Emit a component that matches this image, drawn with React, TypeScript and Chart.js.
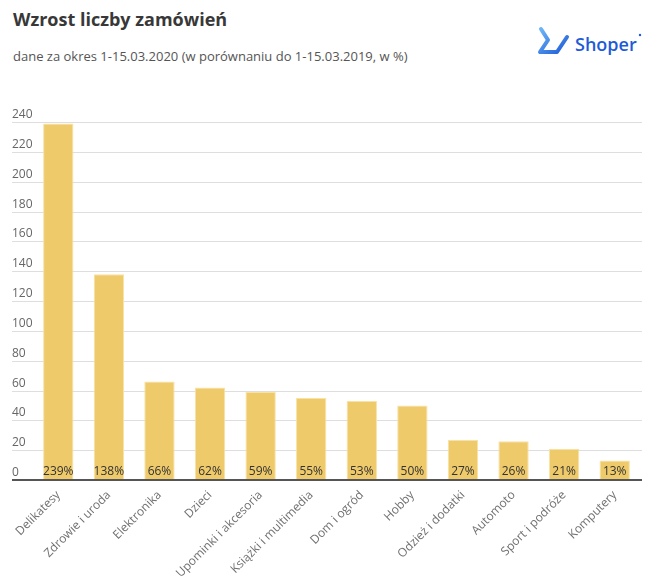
import React, { useEffect, useRef } from 'react';
import { Chart, registerables } from 'chart.js';

Chart.register(...registerables);

const categories = [
  'Delikatesy',
  'Zdrowie i uroda',
  'Elektronika',
  'Dzieci',
  'Upominki i akcesoria',
  'Książki i multimedia',
  'Dom i ogród',
  'Hobby',
  'Odzież i dodatki',
  'Automoto',
  'Sport i podróże',
  'Komputery',
];
const growth = [239, 138, 66, 62, 59, 55, 53, 50, 27, 26, 21, 13];
const yTicks = [0, 20, 40, 60, 80, 100, 120, 140, 160, 180, 200, 220, 240];

const titleText = 'Wzrost liczby zamówień';
const subtitleText = 'dane za okres 1-15.03.2020 (w porównaniu do 1-15.03.2019, w %)';

const FONT = '"Open Sans", sans-serif';
const GRID_LEFT = 12;
const GRID_RIGHT = 642;

const customPlugin = {
  id: 'customDecor',
  beforeDatasetsDraw(chart: any) {
    const ctx = chart.ctx;
    const y = chart.scales.y;
    ctx.save();
    ctx.font = `12px ${FONT}`;
    ctx.fillStyle = '#666';
    ctx.textAlign = 'left';
    ctx.textBaseline = 'alphabetic';
    for (const v of yTicks) {
      const py = Math.round(y.getPixelForValue(v)) + 0.5;
      if (v !== 0) {
        ctx.strokeStyle = '#dedede';
        ctx.lineWidth = 1;
        ctx.beginPath();
        ctx.moveTo(GRID_LEFT, py);
        ctx.lineTo(GRID_RIGHT, py);
        ctx.stroke();
      }
      ctx.fillText(String(v), GRID_LEFT, py - 5);
    }
    ctx.restore();
  },
  afterDatasetsDraw(chart: any) {
    const ctx = chart.ctx;
    const y = chart.scales.y;
    const meta = chart.getDatasetMeta(0);
    const y0 = Math.round(y.getPixelForValue(0));
    ctx.save();
    ctx.strokeStyle = '#555';
    ctx.lineWidth = 2;
    ctx.beginPath();
    ctx.moveTo(GRID_LEFT, y0);
    ctx.lineTo(GRID_RIGHT, y0);
    ctx.stroke();
    ctx.font = `12px ${FONT}`;
    ctx.fillStyle = '#333';
    ctx.textAlign = 'center';
    ctx.textBaseline = 'alphabetic';
    meta.data.forEach((bar: any, i: number) => {
      ctx.fillText(`${growth[i]}%`, bar.x, y0 - 5);
    });
    ctx.restore();
  },
};

function ChartCanvas() {
  const ref = useRef<HTMLCanvasElement | null>(null);
  useEffect(() => {
    if (!ref.current) return;
    const chart = new Chart(ref.current, {
      type: 'bar',
      data: {
        labels: categories,
        datasets: [
          {
            data: growth,
            backgroundColor: '#EFCA6B',
            borderColor: '#F8E2A4',
            borderWidth: 1,
            categoryPercentage: 1,
            barPercentage: 0.6,
          },
        ],
      },
      options: {
        animation: false,
        responsive: false,
        maintainAspectRatio: false,
        layout: { padding: { top: 22, right: 26, left: 0, bottom: 0 } },
        plugins: {
          legend: { display: false },
          tooltip: { enabled: false },
          title: { display: false },
        },
        scales: {
          x: {
            grid: { display: false, drawTicks: false },
            border: { display: false },
            ticks: {
              autoSkip: false,
              minRotation: 45,
              maxRotation: 45,
              padding: 8,
              color: '#707070',
              font: { family: FONT, size: 12 },
            },
            afterFit(scale: any) {
              scale.height = 105;
            },
          },
          y: {
            min: 0,
            max: 240,
            grid: { display: false },
            border: { display: false },
            ticks: { display: false, stepSize: 20 },
            afterFit(scale: any) {
              scale.width = 33;
            },
          },
        },
      },
      plugins: [customPlugin],
    } as any);
    return () => chart.destroy();
  }, []);
  return <canvas ref={ref} width={666} height={485} style={{ display: 'block', width: 666, height: 485 }} />;
}

function Logo() {
  return (
    <svg width={120} height={40} style={{ position: 'absolute', left: 530, top: 22 }}>
      <defs>
        <linearGradient id="lg" x1="0" y1="0" x2="1" y2="1">
          <stop offset="0%" stopColor="#6DB6F5" />
          <stop offset="100%" stopColor="#1E5BD8" />
        </linearGradient>
      </defs>
      <path
        d="M11,7 L18,18 L10,30 L27,30 L37,15"
        fill="none"
        stroke="url(#lg)"
        strokeWidth={4}
        strokeLinecap="round"
        strokeLinejoin="round"
      />
      <text x={45} y={29} fontFamily={FONT} fontSize={18} fontWeight={600} fill="#1E5BD8">
        Shoper
      </text>
      <circle cx={110} cy={13} r={1.2} fill="#1E5BD8" />
    </svg>
  );
}

export default function App() {
  return (
    <div style={{ position: 'absolute', left: 0, top: 0, width: 666, height: 585, background: '#fff', overflow: 'hidden' }}>
      <div
        style={{
          position: 'absolute',
          left: 13,
          top: 7,
          fontFamily: FONT,
          fontSize: 18,
          fontWeight: 700,
          color: '#383838',
          whiteSpace: 'nowrap',
        }}
      >
        {titleText}
      </div>
      <div
        style={{
          position: 'absolute',
          left: 13,
          top: 47,
          fontFamily: FONT,
          fontSize: 13,
          color: '#555',
          whiteSpace: 'nowrap',
        }}
      >
        {subtitleText}
      </div>
      <Logo />
      <div style={{ position: 'absolute', left: 0, top: 100 }}>
        <ChartCanvas />
      </div>
    </div>
  );
}
